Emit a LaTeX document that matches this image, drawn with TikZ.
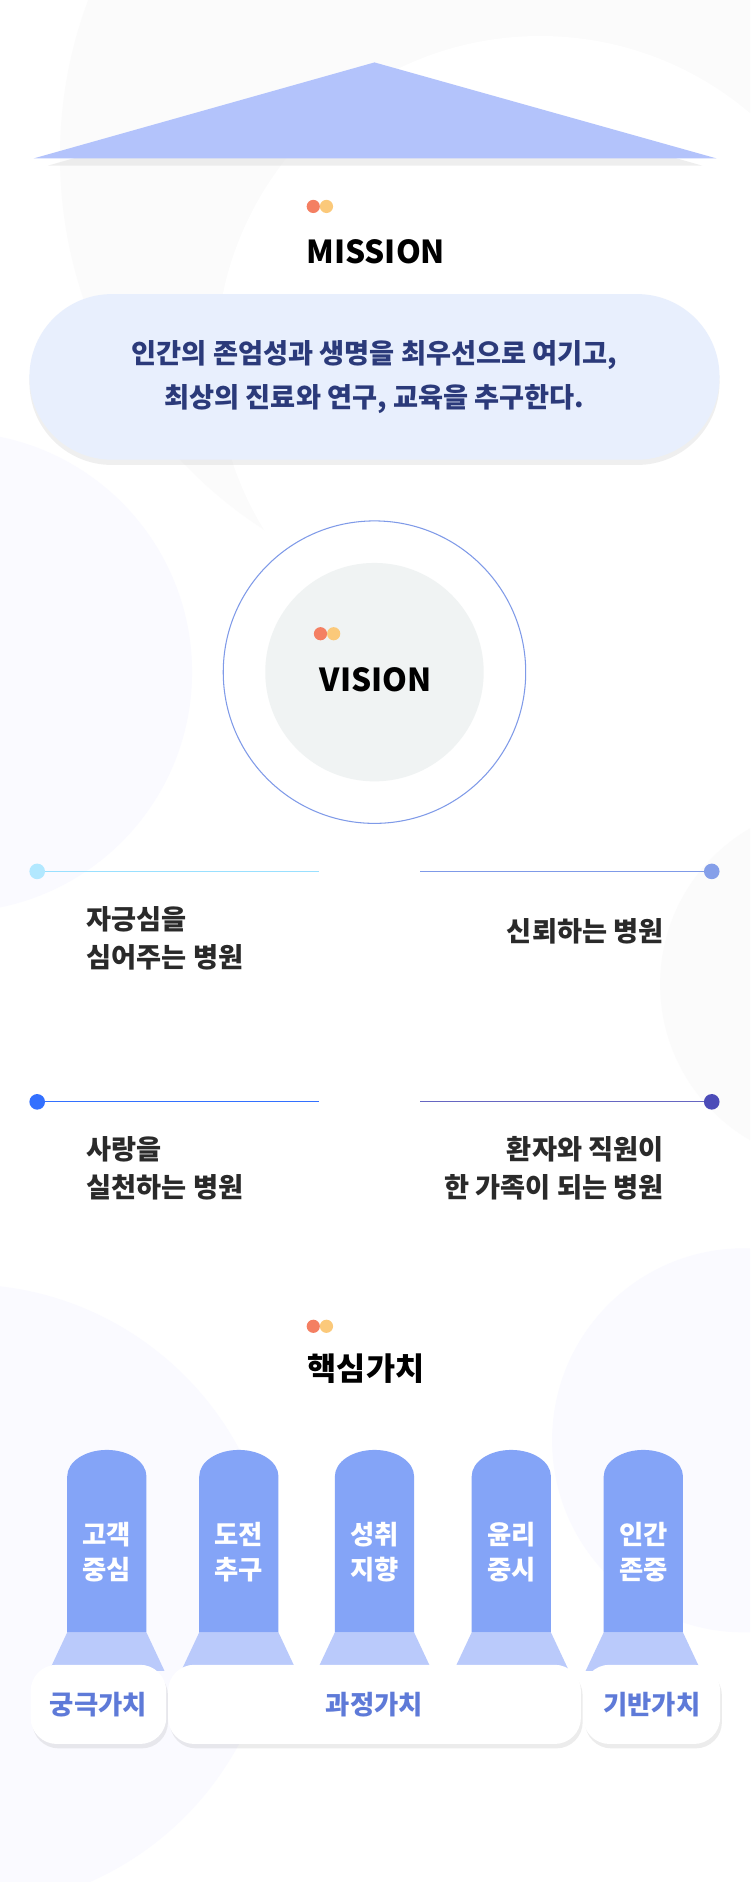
\documentclass[tikz,border=0pt]{standalone}
\usepackage{fontspec}
\setmainfont{Noto Sans CJK KR}
\usetikzlibrary{positioning,shadows}
\definecolor{roof}{HTML}{B3C3FB}
\definecolor{pill}{HTML}{E8EFFD}
\definecolor{navy}{HTML}{2B3A7A}
\definecolor{ring}{HTML}{7F9AE8}
\definecolor{core}{HTML}{F0F3F3}
\definecolor{dotred}{HTML}{F47F62}
\definecolor{dotyel}{HTML}{FBC97A}
\definecolor{pillar}{HTML}{84A4F7}
\definecolor{pillarfoot}{HTML}{BACAFB}
\definecolor{basetext}{HTML}{5E7AD8}
\definecolor{txt}{HTML}{2A2A2A}
\begin{document}
\begin{tikzpicture}[x=0.048cm,y=-0.048cm,
                    title_node/.style={font=\fontsize{36}{40}\selectfont\bfseries, text=black},
                    goal_node/.style={font=\fontsize{31}{43}\selectfont\bfseries, text=txt, inner sep=0pt},
                    pillar_node/.style={font=\fontsize{30}{40}\selectfont\bfseries, text=white, align=center},
                    base_box/.style={draw=none, fill=white, rounded corners=10.5mm, drop shadow={opacity=0.15, shadow xshift=2pt, shadow yshift=-5pt},
                        font=\fontsize{30}{36}\selectfont\bfseries, text=basetext}
                ]
    \useasboundingbox (0,0) rectangle (625,1568);
    % background
    \fill[white] (0,0) rectangle (625,1568);
    \begin{scope}
        \clip (0,0) rectangle (625,1568);
        \fill[gray!3] (420,130) circle (370);
        \fill[white] (450,300) circle (270);
        \fill[blue!2] (-40,560) circle (200);
        \fill[blue!2] (620,1200) circle (160);
        \fill[blue!2] (-30,1330) circle (260);
        \fill[gray!3] (700,820) circle (150);
    \end{scope}
    % roof
    \fill[gray!25, opacity=0.5] (40,138) -- (312,60) -- (585,138) -- cycle;
    \fill[roof] (28,132) -- (312,52) -- (597,132) -- cycle;
    % mission
    \fill[dotred] (261,172) circle (5.5);
    \fill[dotyel] (272,172) circle (5.5);
    \node[title_node] (mission) at (313,210) {MISSION};
    \node[draw=none, fill=pill, rounded corners=33mm, minimum width=575*0.48mm, minimum height=138*0.48mm,
          drop shadow={opacity=0.12, shadow xshift=0pt, shadow yshift=-6pt},
          font=\fontsize{31}{50}\selectfont\bfseries, text=navy, align=center] (missiontext) at (312,314)
          {인간의 존엄성과 생명을 최우선으로 여기고,\\최상의 진료와 연구, 교육을 추구한다.};
    % vision
    \draw[ring, line width=1.2pt] (312,560) circle (126);
    \fill[core] (312,560) circle (91);
    \fill[dotred] (267,528) circle (5.5);
    \fill[dotyel] (278,528) circle (5.5);
    \node[title_node] (vision) at (313,566) {VISION};
    % goals
    \node[circle, fill=blue!30!cyan!30, inner sep=0pt, minimum size=13*0.48mm] (d1) at (31,726) {};
    \coordinate (e1) at (266,726);
    \draw[blue!30!cyan!40, line width=1pt] (d1) -- (e1);
    \node[circle, fill=ring!95, inner sep=0pt, minimum size=13*0.48mm] (d2) at (593,726) {};
    \coordinate (e2) at (350,726);
    \draw[ring, line width=1pt] (e2) -- (d2);
    \node[circle, fill=blue!70!cyan!80, inner sep=0pt, minimum size=13*0.48mm] (d3) at (31,918) {};
    \coordinate (e3) at (266,918);
    \draw[blue!70!cyan!80, line width=1pt] (d3) -- (e3);
    \node[circle, fill=blue!60!black!70, inner sep=0pt, minimum size=13*0.48mm] (d4) at (593,918) {};
    \coordinate (e4) at (350,918);
    \draw[blue!60!black!60, line width=1pt] (e4) -- (d4);
    \node[goal_node, anchor=north west, align=left] (g1) at (72,755) {자긍심을\\심어주는 병원};
    \node[goal_node, anchor=north east, align=right] (g2) at (553,765) {신뢰하는 병원};
    \node[goal_node, anchor=north west, align=left] (g3) at (72,947) {사랑을\\실천하는 병원};
    \node[goal_node, anchor=north east, align=right] (g4) at (553,947) {환자와 직원이\\한 가족이 되는 병원};
    % core values
    \fill[dotred] (261,1105) circle (5.5);
    \fill[dotyel] (272,1105) circle (5.5);
    \node[title_node] (core) at (305,1140) {핵심가치};
    \foreach \cx/\lbl in {89/고객\\중심, 199/도전\\추구, 312/성취\\지향, 426/윤리\\중시, 536/인간\\존중} {
        \fill[pillarfoot] (\cx-33,1360) -- (\cx+33,1360) -- (\cx+48,1392) -- (\cx-48,1392) -- cycle;
        \fill[pillar] (\cx-33,1360) -- (\cx-33,1230) arc[start angle=180, end angle=0, x radius=33, y radius=-22] -- (\cx+33,1360) -- cycle;
        \node[pillar_node] at (\cx,1293) {\lbl};
    }
    \node[base_box, minimum width=113*0.48mm, minimum height=66*0.48mm] (b1) at (82,1420) {궁극가치};
    \node[base_box, minimum width=344*0.48mm, minimum height=66*0.48mm] (b2) at (312,1420) {과정가치};
    \node[base_box, minimum width=114*0.48mm, minimum height=66*0.48mm] (b3) at (543,1420) {기반가치};
\end{tikzpicture}
\end{document}
